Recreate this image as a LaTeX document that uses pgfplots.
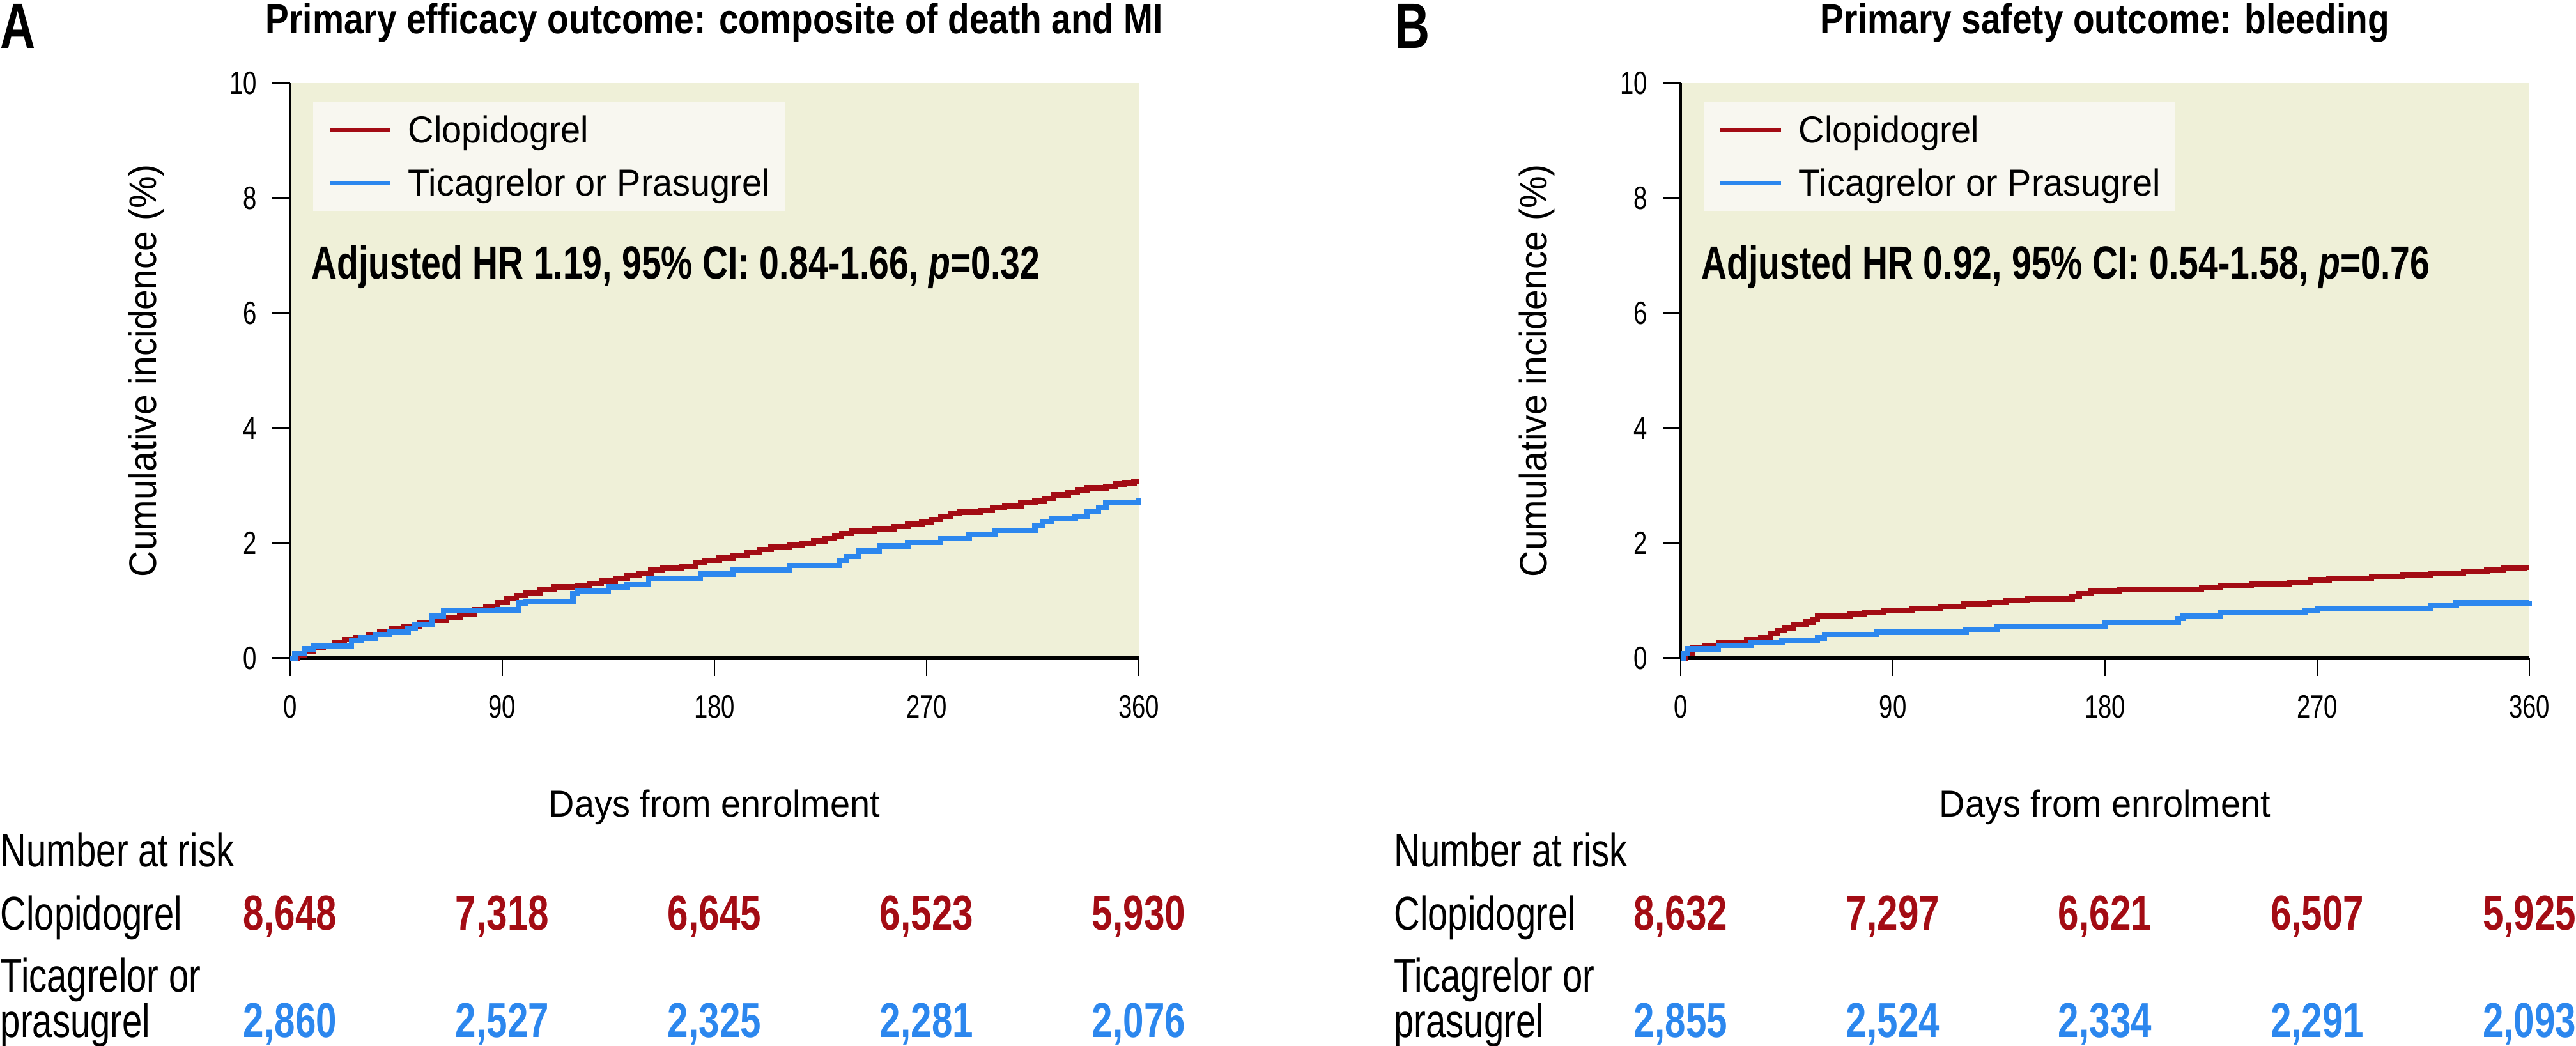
\documentclass[border=0pt]{standalone}
\usepackage{fontspec}
\setmainfont{Liberation Sans}
\newfontfamily\fN{Liberation Sans}[FakeStretch=0.95]
\newfontfamily\fC{Liberation Sans}[FakeStretch=0.76]
\newfontfamily\fT{Liberation Sans}[FakeStretch=0.84]
\usepackage{pgfplots}
\pgfplotsset{compat=1.18}
\definecolor{bgbeige}{RGB}{239,240,216}
\definecolor{legfill}{RGB}{248,247,240}
\definecolor{clopred}{RGB}{163,12,20}
\definecolor{ticblue}{RGB}{44,135,238}
\newcommand\fs[1]{\fontsize{#1bp}{#1bp}\selectfont}

\tikzset{
  hrtext/.style={anchor=base west, inner sep=0pt, font=\fC\bfseries\fs{18.2}},
  lbltext/.style={anchor=base west, inner sep=0pt, font=\fC\fs{18.5}},
  numred/.style={anchor=base, inner sep=0pt, font=\fC\bfseries\fs{19.2}, text=clopred},
  numblue/.style={anchor=base, inner sep=0pt, font=\fC\bfseries\fs{19.2}, text=ticblue},
  letter/.style={anchor=base west, inner sep=0pt, font=\fC\bfseries\fs{25.1}},
  ttl/.style={anchor=base, inner sep=0pt, font=\fT\bfseries\fs{16.4}},
}

\pgfplotsset{
  clopline/.style={const plot, line width=2.1bp, color=clopred},
  ticline/.style={const plot, line width=2.1bp, color=ticblue},
  kmstyle/.style={
  scale only axis, width=332bp, height=225bp,
  anchor=south west,
  xmin=0, xmax=360, ymin=0, ymax=10,
  xtick={0,90,180,270,360}, ytick={0,2,4,6,8,10},
  axis x line*=bottom, axis y line*=left,
  x axis line style={line width=1.7bp, black},
  y axis line style={line width=1bp, black},
  tick align=outside, major tick length=7bp,
  xtick style={line width=0.6bp, black},
  ytick style={line width=1bp, black},
  axis background/.style={fill=bgbeige},
  clip=false,
  /pgf/number format/assume math mode=true,
  tick label style={font=\fC\fs{12.6}, text=black},
  xticklabel style={inner sep=0pt, yshift=-7.25bp},
  yticklabel style={inner sep=0pt, xshift=-5.75bp},
  xlabel={Days from enrolment},
  xlabel style={at={(axis description cs:0.5,-0.2756)}, anchor=base, font=\fN\fs{14.7}},
  ylabel={Cumulative incidence (\%)},
  ylabel style={at={(axis description cs:-0.1578,0.5)}, anchor=base, font=\fN\fs{15}},
  legend cell align=left,
  legend image code/.code={\draw[##1, line width=1.5bp] (0bp,0bp) -- (23.75bp,0bp);},
  legend style={at={(axis description cs:0.0264,0.9689)}, anchor=north west,
    fill=legfill, draw=none, inner xsep=5.75bp, inner ysep=5.75bp,
    row sep=10.25bp, column sep=6.25bp, font=\fN\fs{14.7},
    nodes={inner sep=0pt, text height=10.5bp, text depth=0pt}},
}}

\begin{document}
\begin{tikzpicture}
\path[use as bounding box] (0bp,0bp) rectangle (1007.75bp,-409.25bp);

% ---------------- Panel A ----------------
\begin{axis}[kmstyle, at={(113.5bp,-257.5bp)}]
\addplot[clopline] coordinates {
(0,0) (3,0.05) (6,0.13) (10,0.18) (14,0.22) (19,0.27) (23,0.32) (28,0.36)
(33,0.41) (38,0.45) (43,0.52) (48,0.55) (55,0.62) (60,0.66) (66,0.70)
(72,0.76) (78,0.84) (83,0.90) (88,0.97) (92,1.04) (96,1.09) (100,1.13)
(106,1.19) (112,1.24) (122,1.26) (127,1.30) (132,1.34) (138,1.39) (143,1.44)
(148,1.48) (153,1.54) (158,1.57) (166,1.60) (172,1.66) (176,1.70) (182,1.74)
(188,1.79) (194,1.84) (199,1.89) (204,1.93) (212,1.96) (217,2.00) (222,2.04)
(227,2.08) (231,2.13) (234,2.17) (238,2.21) (248,2.25) (256,2.29) (262,2.33)
(268,2.37) (272,2.41) (276,2.46) (280,2.51) (284,2.54) (293,2.57) (298,2.62)
(303,2.65) (310,2.70) (316,2.73) (320,2.78) (324,2.84) (330,2.88) (334,2.93)
(338,2.96) (346,2.99) (350,3.03) (354,3.05) (358,3.08) (360,3.08)};
\addlegendentry{Clopidogrel}
\addplot[ticline] coordinates {
(0,0) (2,0.08) (6,0.16) (10,0.21) (26,0.30) (30,0.35) (36,0.41) (42,0.46)
(50,0.52) (53,0.59) (60,0.74) (65,0.82) (88,0.84) (97,0.96) (100,0.99)
(120,1.12) (122,1.16) (135,1.24) (143,1.28) (152,1.38) (174,1.46) (188,1.54)
(212,1.61) (233,1.70) (236,1.77) (241,1.86) (250,1.95) (262,2.01) (276,2.08)
(288,2.15) (299,2.22) (316,2.30) (319,2.38) (323,2.42) (333,2.47) (338,2.55)
(343,2.62) (346,2.70) (359,2.70) (360,2.78)};
\addlegendentry{Ticagrelor or Prasugrel}

\node[ttl] at (axis description cs:0.5,1.0856) {Primary efficacy outcome: composite of death and MI};
\node[hrtext] at (axis description cs:0.0248,0.6589) {Adjusted HR 1.19, 95\% CI: 0.84-1.66, \textit{p}=0.32};
\node[letter] at (axis description cs:-0.3419,1.0611) {A};

\node[lbltext] at (axis description cs:-0.3419,-0.3633) {Number at risk};
\node[lbltext] at (axis description cs:-0.3419,-0.4722) {Clopidogrel};
\node[lbltext] at (axis description cs:-0.3419,-0.5800) {Ticagrelor or};
\node[lbltext] at (axis description cs:-0.3419,-0.6589) {prasugrel};

\node[numred] at (axis cs:0,-4.722) {8,648};
\node[numred] at (axis cs:90,-4.722) {7,318};
\node[numred] at (axis cs:180,-4.722) {6,645};
\node[numred] at (axis cs:270,-4.722) {6,523};
\node[numred] at (axis cs:360,-4.722) {5,930};
\node[numblue] at (axis cs:0,-6.589) {2,860};
\node[numblue] at (axis cs:90,-6.589) {2,527};
\node[numblue] at (axis cs:180,-6.589) {2,325};
\node[numblue] at (axis cs:270,-6.589) {2,281};
\node[numblue] at (axis cs:360,-6.589) {2,076};
\end{axis}

% ---------------- Panel B ----------------
\begin{axis}[kmstyle, at={(657.5bp,-257.5bp)}]
\addplot[clopline] coordinates {
(0,0) (2,0.08) (5,0.18) (10,0.22) (16,0.28) (28,0.32) (34,0.37) (38,0.42)
(41,0.48) (44,0.53) (48,0.58) (53,0.63) (56,0.68) (58,0.73) (72,0.76)
(78,0.80) (86,0.83) (98,0.86) (110,0.90) (120,0.94) (131,0.97) (138,1.00)
(147,1.03) (166,1.07) (169,1.12) (174,1.16) (186,1.19) (221,1.22) (229,1.26)
(242,1.29) (258,1.32) (267,1.36) (275,1.39) (293,1.42) (306,1.45) (318,1.47)
(332,1.50) (342,1.54) (349,1.56) (358,1.58) (360,1.58)};
\addlegendentry{Clopidogrel}
\addplot[ticline] coordinates {
(0,0) (1,0.08) (3,0.16) (16,0.22) (30,0.27) (43,0.31) (58,0.35) (61,0.41)
(83,0.46) (121,0.50) (134,0.55) (180,0.62) (211,0.69) (213,0.74) (229,0.79)
(265,0.83) (270,0.87) (318,0.92) (329,0.96) (359,0.96) (360,1.00)};
\addlegendentry{Ticagrelor or Prasugrel}

\node[ttl] at (axis description cs:0.5,1.0856) {Primary safety outcome: bleeding};
\node[hrtext] at (axis description cs:0.0240,0.6589) {Adjusted HR 0.92, 95\% CI: 0.54-1.58, \textit{p}=0.76};
\node[letter] at (axis description cs:-0.3376,1.0611) {B};

\node[lbltext] at (axis description cs:-0.3383,-0.3633) {Number at risk};
\node[lbltext] at (axis description cs:-0.3383,-0.4722) {Clopidogrel};
\node[lbltext] at (axis description cs:-0.3383,-0.5800) {Ticagrelor or};
\node[lbltext] at (axis description cs:-0.3383,-0.6589) {prasugrel};

\node[numred] at (axis cs:0,-4.722) {8,632};
\node[numred] at (axis cs:90,-4.722) {7,297};
\node[numred] at (axis cs:180,-4.722) {6,621};
\node[numred] at (axis cs:270,-4.722) {6,507};
\node[numred] at (axis cs:360,-4.722) {5,925};
\node[numblue] at (axis cs:0,-6.589) {2,855};
\node[numblue] at (axis cs:90,-6.589) {2,524};
\node[numblue] at (axis cs:180,-6.589) {2,334};
\node[numblue] at (axis cs:270,-6.589) {2,291};
\node[numblue] at (axis cs:360,-6.589) {2,093};
\end{axis}
\end{tikzpicture}
\end{document}
